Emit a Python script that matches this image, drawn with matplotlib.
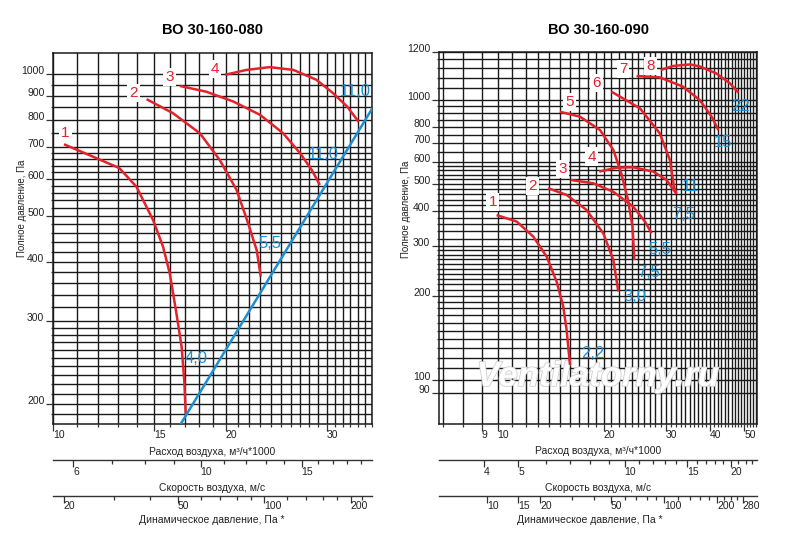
import numpy as np
import matplotlib
matplotlib.use('Agg')
import matplotlib.pyplot as plt
import matplotlib.patheffects as pe
from matplotlib.ticker import NullFormatter

plt.rcParams['font.family'] = ['Liberation Sans', 'DejaVu Sans']

# ---- data: BO 30-160-080 (flow, m3/h*1000 ; total pressure, Pa)
q80 = [
    [10.45, 11.75, 13.05, 13.98, 14.95, 15.56, 15.98, 16.42, 16.76, 16.94, 17.04],
    [14.56, 16.2, 18.04, 19.54, 20.9, 21.9, 22.66, 23.03],
    [16.65, 18.5, 20.62, 22.96, 25.2, 26.99, 28.27, 29.2],
    [19.96, 21.75, 23.87, 26.25, 28.8, 30.8, 32.6, 34.1],
]
p80 = [
    [710, 668, 632, 577, 490, 430, 378, 310, 264, 224, 190],
    [885, 826, 749, 657, 568, 482, 423, 372],
    [944, 918, 875, 820, 749, 679, 626, 582],
    [997, 1021, 1035, 1021, 973, 911, 853, 793],
]
sys_q80 = [16.7, 36.0]
sys_p80 = [181, 844]
num_q80 = [10.51, 13.8, 15.98, 19.16]
num_p80 = [749, 911, 988, 1025]
kw_txt80 = ['4,0', '5,5', '11,0', '11,0']
kw_q80 = [17.8, 23.89, 29.6, 33.63]
kw_p80 = [249, 437, 674, 919]

# ---- data: BO 30-160-090
q90 = [
    [9.93, 11.32, 12.62, 13.76, 14.7, 15.34, 15.68, 16.03],
    [13.9, 15.68, 17.85, 19.92, 21.27, 21.97],
    [16.1, 18.66, 21.27, 24.2, 26.14, 27.3],
    [19.4, 21.73, 24.2, 27.6, 30.1, 32.1],
    [15.0, 17.1, 19.5, 21.27, 22.4, 23.4, 24.1, 24.4],
    [21.0, 25.3, 28.8, 30.75, 31.6, 32.1],
    [24.75, 28.77, 33.5, 37.35, 40.4, 42.2],
    [29.0, 31.4, 35.1, 37.35, 41.6, 45.5, 48.1],
]
p90 = [
    [388, 368, 325, 276, 224, 183, 151, 113],
    [484, 458, 405, 334, 268, 207],
    [518, 504, 470, 416, 368, 334],
    [555, 573, 575, 555, 518, 462],
    [908, 872, 781, 663, 547, 440, 353, 268],
    [1071, 934, 760, 611, 490, 464],
    [1218, 1205, 1116, 1000, 872, 781],
    [1280, 1323, 1340, 1318, 1245, 1147, 1062],
]
num_q90 = [9.68, 12.53, 15.24, 18.46, 15.96, 19.07, 22.66, 27.1]
num_p90 = [433, 494, 567, 628, 986, 1148, 1287, 1323]
kw_txt90 = ['2,2', '3,0', '5,5', '7,5', '7,5', '11', '15', '22']
kw_q90 = [18.58, 24.5, 28.8, 26.7, 33.7, 35.1, 43.6, 48.8]
kw_p90 = [124, 199, 293, 242, 390, 492, 705, 950]

RED = '#e3222b'
BLUE = '#1c8fd3'
GRID = '#1a1a1a'
W, H = 800, 542

fig = plt.figure(figsize=(W / 100, H / 100), dpi=100)


def box(x0, y0, x1, y1):
    return [x0 / W, 1 - y1 / H, (x1 - x0) / W, (y1 - y0) / H]


def main_axes(rect, xlim, ylim, xgrid, ygrid, xmaj, ymaj, ylabels):
    ax = fig.add_axes(rect)
    ax.set_xscale('log')
    ax.set_yscale('log')
    ax.set_xlim(*xlim)
    ax.set_ylim(*ylim)
    ax.set_xticks(xgrid, minor=True)
    ax.set_yticks(ygrid, minor=True)
    ax.set_xticks(xmaj, labels=[str(v) for v in xmaj])
    ax.set_yticks(ymaj, labels=ylabels)
    ax.xaxis.set_minor_formatter(NullFormatter())
    ax.yaxis.set_minor_formatter(NullFormatter())
    ax.grid(which='both', color=GRID, lw=1.0)
    ax.tick_params(which='major', length=4.7, width=0.9, color='#333', labelsize=7.5,
                   labelcolor='#222')
    ax.tick_params(axis='x', which='major', pad=-0.5)
    ax.tick_params(axis='y', which='major', pad=1.5)
    ax.tick_params(which='minor', length=1.8, width=0.9, color='#333')
    plt.setp(ax.get_xticklabels(), ha='left')
    plt.setp(ax.get_yticklabels(), va='baseline')
    for s in ax.spines.values():
        s.set_color(GRID)
        s.set_linewidth(1.1)
    return ax


def scale_axis(rect, lim, ticks, labels, pad):
    sx = fig.add_axes(rect)
    sx.set_xscale('log')
    sx.set_xlim(*lim)
    sx.set_yticks([])
    for k in ('top', 'left', 'right'):
        sx.spines[k].set_visible(False)
    sx.spines['bottom'].set_linewidth(1.0)
    sx.spines['bottom'].set_color('#333')
    major = [t for t in ticks if t in labels]
    minor = [t for t in ticks if t not in labels]
    sx.set_xticks(minor, minor=True)
    sx.set_xticks(major, labels=[str(t) for t in major])
    sx.xaxis.set_minor_formatter(NullFormatter())
    sx.tick_params(which='major', length=4.8, width=0.9, color='#333', labelsize=7.5,
                   pad=pad, labelcolor='#222')
    sx.tick_params(which='minor', length=3, width=0.9, color='#333')
    plt.setp(sx.get_xticklabels(), ha='left')
    return sx


def curves(ax, qs, ps, nq, np_, kt, kq, kp):
    for q, p in zip(qs, ps):
        ax.plot(q, p, color=RED, lw=1.8, zorder=3, solid_capstyle='butt')
    for i, (x, y) in enumerate(zip(nq, np_)):
        ax.text(x, y, str(i + 1), color=RED, fontsize=11, ha='center', va='center',
                zorder=5, bbox=dict(fc='white', ec='none', pad=1.5))
    for t, x, y in zip(kt, kq, kp):
        ax.text(x, y, t, color=BLUE, fontsize=12, ha='center', va='center', zorder=5)


# ---------- left chart
xl80 = (10, 36.0)
ax1 = main_axes(box(53, 53, 372, 424), xl80, (181, 1109),
                list(range(10, 37)),
                list(range(190, 300, 10)) + list(range(300, 700, 20)) + list(range(700, 1001, 50)),
                [10, 15, 20, 30], [200, 300, 400, 500, 600, 700, 800, 900, 1000],
                ['200', '300', '400', '500', '600', '700', '800', '900', '1000'])
curves(ax1, q80, p80, num_q80, num_p80, kw_txt80, kw_q80, kw_p80)
ax1.plot(sys_q80, sys_p80, color=BLUE, lw=1.8, zorder=3)

area80 = np.pi * 0.4 ** 2
vel80 = [q / 3.6 / area80 for q in xl80]
scale_axis(box(53, 459, 372, 460), vel80, list(range(6, 20)), [6, 10, 15], 0)
pd80 = [0.6 * v ** 2 for v in vel80]
scale_axis(box(53, 495, 372, 496), pd80,
           list(range(20, 101, 10)) + list(range(120, 221, 20)), [20, 50, 100, 200], -1.5)

fig.text(212 / W, 1 - 30 / H, 'ВО 30-160-080', ha='center', va='center',
         fontsize=10.5, fontweight='bold')
fig.text(22 / W, 1 - 208 / H, 'Полное давление, Па', rotation=90, ha='center',
         va='center', fontsize=7, color='#222')
fig.text(212 / W, 1 - 452 / H, 'Расход воздуха, м³/ч*1000', ha='center', va='center',
         fontsize=7.5, color='#222')
fig.text(212 / W, 1 - 488 / H, 'Скорость воздуха, м/с', ha='center', va='center',
         fontsize=7.5, color='#222')
fig.text(212 / W, 1 - 520 / H, 'Динамическое давление, Па *', ha='center', va='center',
         fontsize=7.5, color='#222')

# ---------- right chart
xl90 = (6.82, 54.3)
yl90 = (69.6, 1484)
ax2 = main_axes(box(439, 52, 757, 424), xl90, yl90,
                list(range(7, 55)),
                list(range(90, 300, 10)) + list(range(300, 600, 20)) + list(range(600, 1000, 50))
                + list(range(1000, 1401, 100)),
                [9, 10, 20, 30, 40, 50],
                [90, 100, 200, 300, 400, 500, 600, 700, 800, 1000, yl90[1]],
                ['90', '100', '200', '300', '400', '500', '600', '700', '800', '1000', '1200'])
curves(ax2, q90, p90, num_q90, num_p90, kw_txt90, kw_q90, kw_p90)
ax2.text(0.5, 0.128, 'Ventilatorny.ru', transform=ax2.transAxes, ha='center', va='center',
         fontsize=25, fontstyle='italic', fontweight='bold', color='white', zorder=2,
         path_effects=[pe.withStroke(linewidth=1.2, foreground='#cfcfcf')])

area90 = np.pi * 0.45 ** 2
vel90 = [q / 3.6 / area90 for q in xl90]
scale_axis(box(439, 459, 757, 460), vel90, list(range(4, 24)), [4, 5, 10, 15, 20], 0)
pd90 = [0.6 * v ** 2 for v in vel90]
scale_axis(box(439, 495, 757, 496), pd90,
           [10, 15, 20, 30, 40, 50, 60, 70, 80, 90, 100] + list(range(120, 281, 20)),
           [10, 15, 20, 50, 100, 200, 280], -1.5)

fig.text(598 / W, 1 - 30 / H, 'ВО 30-160-090', ha='center', va='center',
         fontsize=10.5, fontweight='bold')
fig.text(406 / W, 1 - 209 / H, 'Полное давление, Па', rotation=90, ha='center',
         va='center', fontsize=7, color='#222')
fig.text(598 / W, 1 - 451 / H, 'Расход воздуха, м³/ч*1000', ha='center', va='center',
         fontsize=7.5, color='#222')
fig.text(598 / W, 1 - 488 / H, 'Скорость воздуха, м/с', ha='center', va='center',
         fontsize=7.5, color='#222')
fig.text(590 / W, 1 - 520 / H, 'Динамическое давление, Па *', ha='center', va='center',
         fontsize=7.5, color='#222')

fig.savefig('out.png', dpi=100)
